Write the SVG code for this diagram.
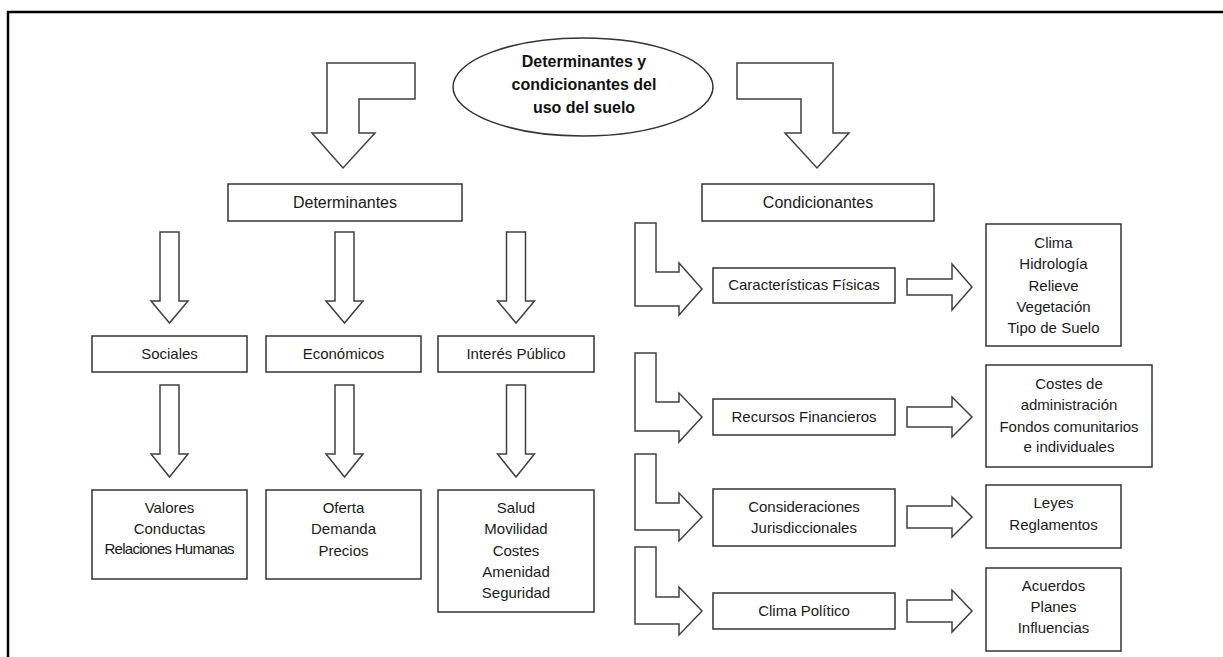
<svg xmlns="http://www.w3.org/2000/svg" width="1223" height="657" viewBox="0 0 1223 657">
<style>
.box{fill:#fff;stroke:#333;stroke-width:1.5}
.arr{fill:#fff;stroke:#404040;stroke-width:1.5;stroke-linejoin:miter}
.t{font-family:"Liberation Sans",Arial,sans-serif;font-size:15px;fill:#1a1a1a;text-anchor:middle}
.tb{font-family:"Liberation Sans",Arial,sans-serif;font-size:16px;font-weight:bold;fill:#111;text-anchor:middle}
</style>
<rect x="0" y="0" width="1223" height="657" fill="#fff"/>
<path d="M8,657 V12 H1223" fill="none" stroke="#000" stroke-width="2.5"/>

<g id="connectors">
<path class="arr" d="M327,63 H415 V99 H359 V133 H375 L343,168 L312,133 H327 Z"/>
<path class="arr" d="M737,63 H833 V133 H849 L817,168 L785,133 H801 V99 H737 Z"/>
<path class="arr" d="M160,232 V301 H151 L169.5,323 L188,301 H179 V232 Z"/>
<path class="arr" d="M335,232 V301 H326 L344.5,323 L363,301 H354 V232 Z"/>
<path class="arr" d="M506.5,232 V301 H497.5 L516,323 L534.5,301 H525.5 V232 Z"/>
<path class="arr" d="M160,385 V454 H151 L169.5,477 L188,454 H179 V385 Z"/>
<path class="arr" d="M335,385 V454 H326 L344.5,477 L363,454 H354 V385 Z"/>
<path class="arr" d="M506.5,385 V454 H497.5 L516,477 L534.5,454 H525.5 V385 Z"/>
<path class="arr" d="M635,223 H656 V272 H679 V263 L702,289 L679,315 V306 H635 Z"/>
<path class="arr" d="M635,353 H656 V402 H679 V393 L702,417 L679,442 V431 H635 Z"/>
<path class="arr" d="M635,454 H656 V503 H679 V493 L702,517 L679,541 V530 H635 Z"/>
<path class="arr" d="M635,547 H656 V597 H679 V587 L702,611 L679,635 V624 H635 Z"/>
<path class="arr" d="M907,279 H952 V264 L972,287 L952,310 V295 H907 Z"/>
<path class="arr" d="M907,407 H952 V397 L972,417 L952,437 V427 H907 Z"/>
<path class="arr" d="M907,506 H952 V497 L972,517 L952,537 V528 H907 Z"/>
<path class="arr" d="M907,600 H952 V590 L972,611 L952,632 V622 H907 Z"/>
</g>

<g id="root">
<ellipse class="box" cx="583" cy="87" rx="130" ry="49"/>
<text class="tb" x="584" y="67">Determinantes y</text>
<text class="tb" x="584" y="90">condicionantes del</text>
<text class="tb" x="584" y="113">uso del suelo</text>
</g>

<g id="determinantes">
<rect class="box" x="228" y="184" width="234" height="37"/>
<text class="t" x="345" y="208" style="font-size:16px">Determinantes</text>
</g>
<g id="condicionantes">
<rect class="box" x="702" y="184" width="232" height="37"/>
<text class="t" x="818" y="208" style="font-size:16px">Condicionantes</text>
</g>

<g id="sociales">
<rect class="box" x="92" y="336" width="155" height="36"/>
<text class="t" x="169.5" y="359">Sociales</text>
</g>
<g id="economicos">
<rect class="box" x="266" y="336" width="155" height="36"/>
<text class="t" x="343.5" y="359">Económicos</text>
</g>
<g id="interes">
<rect class="box" x="438" y="336" width="156" height="36"/>
<text class="t" x="516" y="359">Interés Público</text>
</g>

<g id="valores">
<rect class="box" x="92" y="490" width="155" height="89"/>
<text class="t" x="169.5" y="513">Valores</text>
<text class="t" x="169.5" y="534">Conductas</text>
<text class="t" x="169.5" y="554" textLength="130" lengthAdjust="spacing">Relaciones Humanas</text>
</g>
<g id="oferta">
<rect class="box" x="266" y="490" width="155" height="89"/>
<text class="t" x="343.5" y="513">Oferta</text>
<text class="t" x="343.5" y="534">Demanda</text>
<text class="t" x="343.5" y="556">Precios</text>
</g>
<g id="salud">
<rect class="box" x="438" y="490" width="156" height="122"/>
<text class="t" x="516" y="513">Salud</text>
<text class="t" x="516" y="534">Movilidad</text>
<text class="t" x="516" y="556">Costes</text>
<text class="t" x="516" y="577">Amenidad</text>
<text class="t" x="516" y="598">Seguridad</text>
</g>

<g id="caracteristicas">
<rect class="box" x="713" y="268" width="182" height="35"/>
<text class="t" x="804" y="290">Características Físicas</text>
</g>
<g id="recursos">
<rect class="box" x="713" y="399" width="182" height="36"/>
<text class="t" x="804" y="422">Recursos Financieros</text>
</g>
<g id="consideraciones">
<rect class="box" x="713" y="489" width="182" height="57"/>
<text class="t" x="804" y="512">Consideraciones</text>
<text class="t" x="804" y="533">Jurisdiccionales</text>
</g>
<g id="climapolitico">
<rect class="box" x="713" y="593" width="182" height="36"/>
<text class="t" x="804" y="616">Clima Político</text>
</g>

<g id="fisicas-items">
<rect class="box" x="986" y="224" width="135" height="122"/>
<text class="t" x="1053.5" y="248">Clima</text>
<text class="t" x="1053.5" y="269">Hidrología</text>
<text class="t" x="1053.5" y="291">Relieve</text>
<text class="t" x="1053.5" y="312">Vegetación</text>
<text class="t" x="1053.5" y="333">Tipo de Suelo</text>
</g>
<g id="costes-items">
<rect class="box" x="986" y="365" width="166" height="102"/>
<text class="t" x="1069" y="389">Costes de</text>
<text class="t" x="1069" y="410">administración</text>
<text class="t" x="1069" y="432">Fondos comunitarios</text>
<text class="t" x="1069" y="452">e individuales</text>
</g>
<g id="leyes-items">
<rect class="box" x="986" y="485" width="135" height="63"/>
<text class="t" x="1053.5" y="508">Leyes</text>
<text class="t" x="1053.5" y="530">Reglamentos</text>
</g>
<g id="acuerdos-items">
<rect class="box" x="986" y="568" width="135" height="83"/>
<text class="t" x="1053.5" y="591">Acuerdos</text>
<text class="t" x="1053.5" y="612">Planes</text>
<text class="t" x="1053.5" y="633">Influencias</text>
</g>
</svg>
